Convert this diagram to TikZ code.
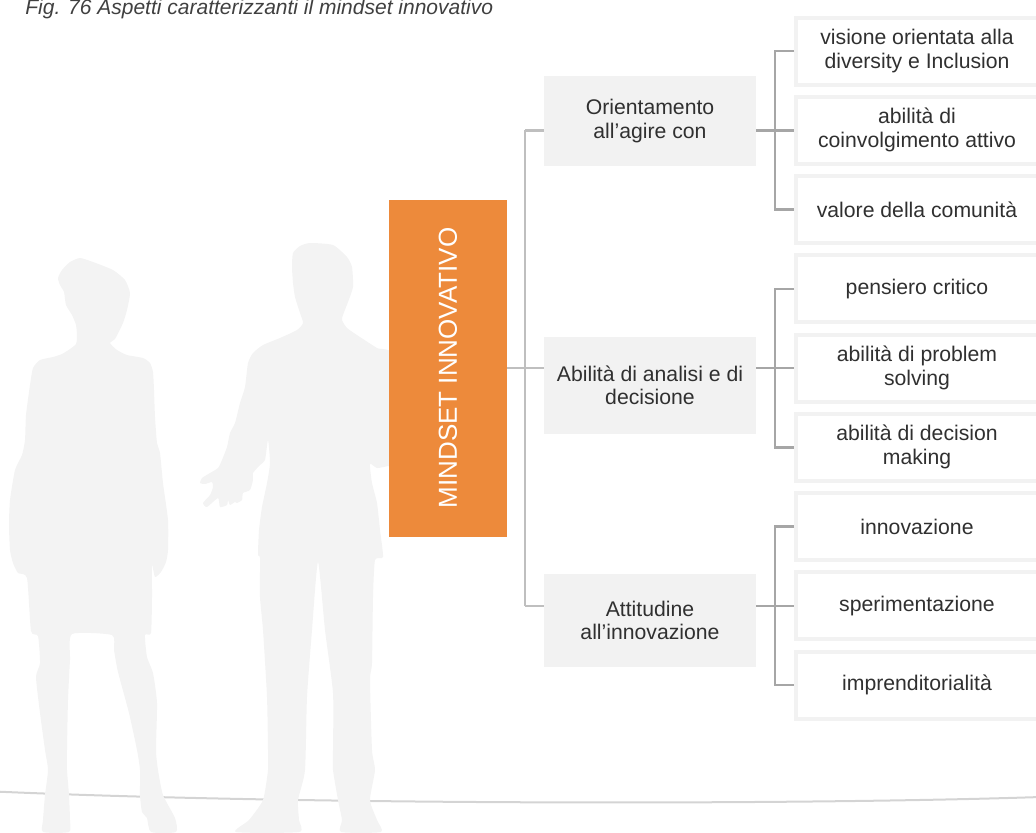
\documentclass[tikz,border=0pt]{standalone}
\usepackage{fontspec}
\setmainfont{Liberation Sans}
\usepackage{graphicx}
\definecolor{mindorange}{HTML}{ED8A3B}
\definecolor{boxgrey}{HTML}{F2F2F2}
\definecolor{shadegrey}{HTML}{F3F3F3}
\definecolor{textgrey}{HTML}{303030}
\begin{document}
\begin{tikzpicture}[x=0.5pt,y=-0.5pt,
    core/.style={fill=mindorange,text=white,minimum width=59pt,minimum height=168.5pt,inner sep=0pt,font=\fontsize{13pt}{15pt}\selectfont},
    midbox/.style={fill=boxgrey,text=textgrey,minimum width=106pt,align=center,inner sep=0pt,font=\fontsize{10.6pt}{11.75pt}\selectfont},
    leaf/.style={draw=boxgrey,line width=2pt,fill=white,text=textgrey,minimum width=121pt,minimum height=33.5pt,align=center,inner sep=0pt,font=\fontsize{10.6pt}{12pt}\selectfont},
    spine/.style={draw=black!25,line width=1.25pt},
    bracket/.style={draw=black!35,line width=1.25pt}]
    \useasboundingbox (0,0) rectangle (1036,832);
    \clip (0,0) rectangle (1036,832);
    \node[anchor=base west,inner sep=0pt,text=black!75,font=\fontsize{10.5pt}{12pt}\selectfont\itshape] (title) at (25,14.5) {Fig. 76 Aspetti caratterizzanti il mindset innovativo};
    % floor line
    \draw[black!17,line width=1pt] (-5,791.5) .. controls (300,805) and (800,805) .. (1040,797);
    % woman
    \fill[shadegrey] plot[smooth cycle,tension=.35] coordinates {
        (80,258) (93,262) (113,270) (125,280) (130,293) (127,310) (123,323) (115,339) (110,343)
        (117,350) (127,355) (143,358) (150,363) (153,372) (154,390) (155,417) (157,443) (160,453)
        (163,483) (168,520) (168,550) (166,562) (161,572) (155,577) (152,565) (152,597) (151,633)
        (145,635) (147,657) (153,673) (157,703) (156,750) (158,770) (163,795) (175,818) (176,832)
        (151,832) (147,818) (142,812) (140,795) (140,770) (137,750) (129,713) (118,672) (114,650)
        (112,635) (72,634) (70,660) (68,700) (67,750) (67,770) (69,795) (70,820) (69,832)
        (43,832) (43,820) (45,795) (48,770) (45,750) (40,713) (36,677) (40,663) (38,636)
        (31,631) (27,578) (18,573) (13,563) (10,550) (9,525) (10,500) (15,470) (22,455) (25,440)
        (26,415) (30,385) (33,368) (40,360) (53,357) (62,354) (70,349) (76,344) (77,336) (76,325)
        (72,315) (66,305) (64,292) (60,285) (58,278) (62,270) (70,262)};
    % man
    \fill[shadegrey] plot[smooth cycle,tension=.35] coordinates {
        (310,243) (333,245) (347,257) (352,267) (353,287) (348,302) (343,315) (342,320) (347,328)
        (360,337) (377,348) (395,358) (395,463) (388,466) (377,468) (370,464) (372,483) (377,503)
        (380,530) (383,557) (375,560) (373,597) (372,663) (370,680) (372,750) (375,770) (370,800)
        (377,820) (381,832) (341,832) (342,820) (338,800) (333,770) (333,750) (333,693) (325,630)
        (318,562) (312,630) (307,697) (305,770) (298,800) (299,820) (299,832) (236,832) (249,820)
        (263,800) (268,770) (268,750) (267,697) (263,630) (260,597) (260,558) (258,555) (259,530)
        (262,507) (267,483) (270,463) (268,440) (265,460) (260,465) (253,473) (253,480) (250,490)
        (243,493) (242,500) (237,503) (235,502) (230,505) (228,500) (227,505) (220,507) (218,498)
        (207,507) (203,503) (210,495) (213,487) (212,482) (205,484) (200,483) (202,478) (210,473)
        (218,468) (222,460) (227,447) (230,433) (235,423) (240,403) (245,387) (248,363) (253,353)
        (263,345) (280,338) (297,330) (303,323) (300,313) (295,297) (293,283) (292,267) (293,253)
        (300,246)};
    \node[core] (mind) at (448,368) {\rotatebox{90}{MINDSET INNOVATIVO}};
    \node[midbox,minimum height=45pt] (agire) at (650,121) {Orientamento\\all’agire con};
    \node[midbox,minimum height=48.5pt] (analisi) at (650,385.5) {Abilità di analisi e di\\decisione};
    \node[midbox,minimum height=46.5pt] (attitudine) at (650,620.5) {Attitudine\\all’innovazione};
    \node[leaf] (diversity) at (917,51) {visione orientata alla\\diversity e Inclusion};
    \node[leaf] (coinvolgimento) at (917,130.25) {abilità di\\coinvolgimento attivo};
    \node[leaf] (comunita) at (917,209.5) {valore della comunità};
    \node[leaf] (critico) at (917,288.75) {pensiero critico};
    \node[leaf] (problem) at (917,368) {abilità di problem\\solving};
    \node[leaf] (decision) at (917,447.25) {abilità di decision\\making};
    \node[leaf] (innovazione) at (917,526.5) {innovazione};
    \node[leaf] (sperimentazione) at (917,605.75) {sperimentazione};
    \node[leaf] (impresa) at (917,685) {imprenditorialità};
    \coordinate (sp) at (525,0);
    \coordinate (br) at (775,0);
    \draw[spine] (sp |- coinvolgimento) -- (sp |- sperimentazione);
    \draw[spine] (mind.east) -- (mind.east -| analisi.west);
    \draw[spine] (sp |- coinvolgimento) -- (agire.west |- coinvolgimento);
    \draw[spine] (sp |- sperimentazione) -- (attitudine.west |- sperimentazione);
    \draw[bracket] (agire.east |- coinvolgimento) -- (coinvolgimento.west);
    \draw[bracket] (diversity.west) -- (br |- diversity) -- (br |- comunita) -- (comunita.west);
    \draw[bracket] (analisi.east |- problem) -- (problem.west);
    \draw[bracket] (critico.west) -- (br |- critico) -- (br |- decision) -- (decision.west);
    \draw[bracket] (attitudine.east |- sperimentazione) -- (sperimentazione.west);
    \draw[bracket] (innovazione.west) -- (br |- innovazione) -- (br |- impresa) -- (impresa.west);
\end{tikzpicture}
\end{document}
